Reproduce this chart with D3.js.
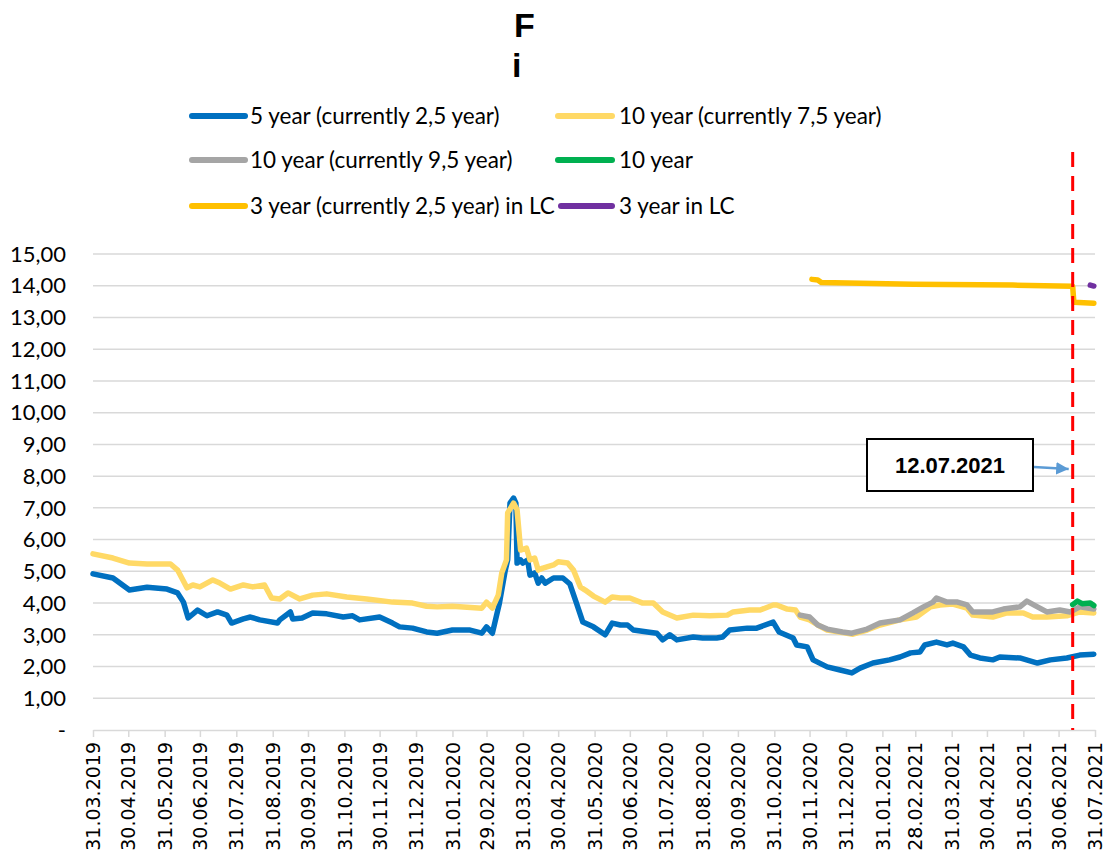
<!DOCTYPE html>
<html>
<head>
<meta charset="utf-8">
<script src="https://cdn.jsdelivr.net/npm/d3@7"></script>
<style>
  body { margin: 0; background: #fff; }
  svg { display: block; }
</style>
</head>
<body>
<svg id="chart" width="1110" height="855"></svg>
<script>
// ---- data -------------------------------------------------------------
const tickLabels = [
  "31.03.2019","30.04.2019","31.05.2019","30.06.2019","31.07.2019","31.08.2019",
  "30.09.2019","31.10.2019","30.11.2019","31.12.2019","31.01.2020","29.02.2020",
  "31.03.2020","30.04.2020","31.05.2020","30.06.2020","31.07.2020","31.08.2020",
  "30.09.2020","31.10.2020","30.11.2020","31.12.2020","31.01.2021","28.02.2021",
  "31.03.2021","30.04.2021","31.05.2021","30.06.2021","31.07.2021"
];
const yTicks = [0,1,2,3,4,5,6,7,8,9,10,11,12,13,14,15];

const dates5y = [
  "2019-03-31","2019-04-17","2019-05-01","2019-05-16","2019-06-02","2019-06-11","2019-06-16","2019-06-20",
  "2019-06-28","2019-07-06","2019-07-15","2019-07-23","2019-07-27","2019-08-06","2019-08-12","2019-08-20",
  "2019-09-04","2019-09-06","2019-09-15","2019-09-17","2019-09-25","2019-10-04","2019-10-16","2019-10-30",
  "2019-11-07","2019-11-13","2019-11-30","2019-12-11","2019-12-17","2019-12-28","2020-01-09","2020-01-18",
  "2020-01-31","2020-02-15","2020-02-25","2020-02-29","2020-03-05","2020-03-07","2020-03-11","2020-03-16",
  "2020-03-18","2020-03-20","2020-03-23","2020-03-25","2020-03-26","2020-03-29","2020-03-31","2020-04-04",
  "2020-04-06","2020-04-10","2020-04-13","2020-04-16","2020-04-19","2020-04-26","2020-05-04","2020-05-10",
  "2020-05-16","2020-05-21","2020-05-30","2020-06-09","2020-06-15","2020-06-22","2020-06-28","2020-07-03",
  "2020-07-15","2020-07-23","2020-07-28","2020-08-03","2020-08-09","2020-08-23","2020-08-31","2020-09-12",
  "2020-09-17","2020-09-23","2020-10-08","2020-10-16","2020-10-30","2020-11-04","2020-11-16","2020-11-19",
  "2020-11-28","2020-12-03","2020-12-15","2020-12-26","2021-01-05","2021-01-12","2021-01-23","2021-02-06",
  "2021-02-15","2021-02-24","2021-03-04","2021-03-08","2021-03-18","2021-03-27","2021-04-01","2021-04-10",
  "2021-04-16","2021-04-24","2021-05-05","2021-05-11","2021-05-28","2021-06-12","2021-06-23","2021-07-07",
  "2021-07-18","2021-07-30"
];
const values5y = [
  4.92,4.79,4.41,4.50,4.44,4.32,4.03,3.53,
  3.78,3.60,3.72,3.62,3.37,3.50,3.56,3.47,
  3.37,3.47,3.72,3.50,3.53,3.69,3.66,3.56,
  3.60,3.47,3.56,3.37,3.25,3.21,3.09,3.05,
  3.15,3.15,3.05,3.25,3.05,3.37,4.00,5.04,
  5.36,7.15,7.31,7.15,5.26,5.36,5.26,5.36,
  4.88,4.95,4.63,4.79,4.63,4.79,4.79,4.60,
  3.95,3.40,3.25,3.00,3.37,3.31,3.31,3.15,
  3.09,3.05,2.84,3.00,2.84,2.93,2.90,2.90,
  2.93,3.15,3.21,3.21,3.40,3.09,2.90,2.68,
  2.62,2.21,1.99,1.89,1.80,1.95,2.11,2.21,
  2.30,2.43,2.46,2.68,2.77,2.68,2.74,2.62,
  2.36,2.27,2.21,2.30,2.27,2.11,2.21,2.27,
  2.36,2.39
];

const dates10y75 = [
  "2019-03-31","2019-04-17","2019-05-01","2019-05-16","2019-06-05","2019-06-11","2019-06-19","2019-06-24",
  "2019-06-30","2019-07-11","2019-07-17","2019-07-26","2019-08-06","2019-08-14","2019-08-24","2019-08-30",
  "2019-09-06","2019-09-13","2019-09-23","2019-10-04","2019-10-16","2019-11-02","2019-11-19","2019-12-11",
  "2019-12-28","2020-01-09","2020-01-18","2020-01-31","2020-02-25","2020-02-29","2020-03-05","2020-03-10",
  "2020-03-13","2020-03-17","2020-03-18","2020-03-23","2020-03-26","2020-03-29","2020-04-03","2020-04-06",
  "2020-04-10","2020-04-13","2020-04-17","2020-04-26","2020-04-30","2020-05-08","2020-05-13","2020-05-19",
  "2020-05-23","2020-05-30","2020-06-09","2020-06-15","2020-06-22","2020-06-30","2020-07-11","2020-07-20",
  "2020-07-28","2020-08-09","2020-08-23","2020-09-06","2020-09-21","2020-09-26","2020-10-10","2020-10-19",
  "2020-10-30","2020-11-02","2020-11-11","2020-11-18","2020-11-22","2020-11-30","2020-12-07","2020-12-15",
  "2021-01-01","2021-01-06","2021-01-18","2021-01-29","2021-02-15","2021-03-01","2021-03-13","2021-03-21",
  "2021-04-01","2021-04-13","2021-04-18","2021-05-05","2021-05-17","2021-05-31","2021-06-08","2021-06-20",
  "2021-07-07","2021-07-18","2021-07-30"
];
const values10y75 = [
  5.55,5.42,5.26,5.23,5.23,5.04,4.48,4.57,
  4.51,4.73,4.63,4.44,4.57,4.51,4.57,4.16,
  4.13,4.32,4.13,4.25,4.29,4.19,4.13,4.03,
  4.00,3.90,3.88,3.90,3.84,4.03,3.84,4.25,
  4.95,5.36,6.84,7.15,6.94,5.67,5.73,5.36,
  5.42,5.04,5.10,5.20,5.30,5.26,5.04,4.50,
  4.41,4.22,4.03,4.19,4.16,4.16,4.00,4.00,
  3.72,3.53,3.62,3.60,3.62,3.72,3.78,3.78,
  3.94,3.94,3.81,3.78,3.56,3.47,3.31,3.15,
  3.05,3.02,3.15,3.31,3.47,3.56,3.88,3.94,
  3.97,3.84,3.62,3.56,3.69,3.69,3.56,3.56,
  3.60,3.72,3.69
];

const dates10y95 = [
  "2020-11-22","2020-11-30","2020-12-07","2020-12-15","2020-12-28","2021-01-05","2021-01-18","2021-01-29",
  "2021-02-15","2021-02-26","2021-03-07","2021-03-15","2021-03-18","2021-03-27","2021-04-05","2021-04-13",
  "2021-04-18","2021-05-05","2021-05-14","2021-05-28","2021-06-03","2021-06-12","2021-06-20","2021-07-01",
  "2021-07-10","2021-07-18","2021-07-30"
];
const values10y95 = [
  3.62,3.56,3.31,3.18,3.09,3.05,3.18,3.37,
  3.47,3.69,3.88,4.03,4.16,4.03,4.03,3.94,
  3.72,3.72,3.81,3.88,4.06,3.88,3.72,3.78,
  3.72,3.88,3.81
];

const dates10y = ["2021-07-12","2021-07-16","2021-07-20","2021-07-27","2021-07-30"];
const values10y = [3.95,4.06,3.98,4.00,3.92];

const dates3yLC25 = ["2020-12-02","2020-12-07","2020-12-10","2021-02-26","2021-05-22","2021-07-12","2021-07-13","2021-07-30"];
const values3yLC25 = [14.20,14.18,14.10,14.05,14.02,13.98,13.48,13.45];

const dates3yLC = ["2021-07-27","2021-07-30"];
const values3yLC = [14.02,13.99];

const seriesNames = [
  "5 year (currently 2,5 year)",
  "10 year (currently 7,5 year)",
  "10 year (currently 9,5 year)",
  "10 year",
  "3 year (currently 2,5 year) in LC",
  "3 year in LC"
];
const seriesColors = ["#0070c0","#ffd966","#a5a5a5","#00b050","#ffc000","#7030a0"];

const markerDate = "12.07.2021";

// ---- setup ------------------------------------------------------------
const parseISO = d3.utcParse("%Y-%m-%d");
const parseLabel = d3.utcParse("%d.%m.%Y");

const series = [
  [dates5y, values5y],
  [dates10y75, values10y75],
  [dates10y95, values10y95],
  [dates10y, values10y],
  [dates3yLC25, values3yLC25],
  [dates3yLC, values3yLC]
].map(([ds, vs], i) => ({
  name: seriesNames[i],
  color: seriesColors[i],
  points: ds.map((d, j) => ({ date: parseISO(d), value: vs[j] }))
}));

const svg = d3.select("#chart");
const plot = { left: 93, right: 1095, top: 254, bottom: 730 };

const x = d3.scaleUtc()
  .domain([parseLabel(tickLabels[0]), parseLabel(tickLabels[tickLabels.length - 1])])
  .range([plot.left, plot.right]);
const y = d3.scaleLinear().domain([0, 15]).range([plot.bottom, plot.top]);

const yFmt = v => v === 0 ? "-" : d3.format(".2f")(v).replace(".", ",");

// horizontal gridlines
svg.append("g")
  .selectAll("line")
  .data(yTicks.filter(v => v > 0))
  .join("line")
  .attr("x1", plot.left).attr("x2", plot.right)
  .attr("y1", d => y(d)).attr("y2", d => y(d))
  .attr("stroke", "#d9d9d9").attr("stroke-width", 1.5);

// y axis labels
svg.append("g")
  .selectAll("text")
  .data(yTicks)
  .join("text")
  .attr("x", 66)
  .attr("y", d => y(d))
  .attr("dy", "0.35em")
  .attr("text-anchor", "end")
  .attr("font-family", "Lato, 'Open Sans', sans-serif")
  .attr("font-size", 22)
  .attr("fill", "#000")
  .text(yFmt);

// x axis
const xAxis = d3.axisBottom(x)
  .tickValues(tickLabels.map(parseLabel))
  .tickFormat(d3.utcFormat("%d.%m.%Y"))
  .tickSize(7)
  .tickSizeOuter(0);

const gx = svg.append("g")
  .attr("transform", `translate(0,${plot.bottom})`)
  .call(xAxis);
gx.select(".domain").attr("stroke", "#d9d9d9").attr("stroke-width", 1.5);
gx.selectAll(".tick line").attr("stroke", "#d9d9d9").attr("stroke-width", 1.5);
gx.selectAll(".tick text")
  .attr("font-family", "'DejaVu Sans', sans-serif")
  .attr("font-size", 19)
  .attr("fill", "#000")
  .attr("text-anchor", "end")
  .attr("transform", "translate(0,12) rotate(-90)")
  .attr("x", 0).attr("y", 0)
  .attr("dy", "0.35em");

// series lines
const line = d3.line()
  .x(d => x(d.date))
  .y(d => y(d.value));

svg.append("g")
  .selectAll("path")
  .data(series)
  .join("path")
  .attr("d", d => line(d.points))
  .attr("fill", "none")
  .attr("stroke", d => d.color)
  .attr("stroke-width", 5.5)
  .attr("stroke-linejoin", "round")
  .attr("stroke-linecap", "round");

// marker date line
const mx = x(parseLabel(markerDate));
svg.append("line")
  .attr("x1", mx).attr("x2", mx)
  .attr("y1", 152).attr("y2", plot.bottom)
  .attr("stroke", "#ff0000")
  .attr("stroke-width", 3)
  .attr("stroke-dasharray", "15,9");

// annotation box
const box = svg.append("g");
box.append("rect")
  .attr("x", 867).attr("y", 439)
  .attr("width", 166).attr("height", 52)
  .attr("fill", "#fff")
  .attr("stroke", "#000")
  .attr("stroke-width", 2);
box.append("text")
  .attr("x", 950).attr("y", 465)
  .attr("dy", "0.35em")
  .attr("text-anchor", "middle")
  .attr("font-family", "'Liberation Sans', Arial, sans-serif")
  .attr("font-weight", "bold")
  .attr("font-size", 22)
  .text(markerDate);

svg.append("defs").append("marker")
  .attr("id", "arrowHead")
  .attr("viewBox", "0 0 10 10")
  .attr("refX", 10).attr("refY", 5)
  .attr("markerWidth", 5).attr("markerHeight", 5)
  .attr("orient", "auto")
  .append("path")
  .attr("d", "M0,0 L10,5 L0,10 Z")
  .attr("fill", "#5b9bd5");

svg.append("line")
  .attr("x1", 1034).attr("y1", 467)
  .attr("x2", mx - 4).attr("y2", 469)
  .attr("stroke", "#5b9bd5")
  .attr("stroke-width", 2.5)
  .attr("marker-end", "url(#arrowHead)");

// title
const title = svg.append("g")
  .attr("font-family", "'Liberation Sans', Arial, sans-serif")
  .attr("font-weight", "bold")
  .attr("font-size", 34)
  .attr("fill", "#000");
title.append("text").attr("x", 514).attr("y", 37).text("F");
title.append("text").attr("x", 512).attr("y", 77).text("i");

// legend
const legendPos = [
  { lx: 192, ty: 116 }, { lx: 558, ty: 116 },
  { lx: 192, ty: 160 }, { lx: 558, ty: 160 },
  { lx: 192, ty: 206 }, { lx: 561, ty: 206 }
];
const legend = svg.append("g")
  .selectAll("g")
  .data(series)
  .join("g")
  .attr("transform", (d, i) => `translate(${legendPos[i].lx},${legendPos[i].ty})`);
legend.append("line")
  .attr("x1", 0).attr("x2", (d, i) => 612 - legendPos[i].lx > 60 ? 53 : 612 - legendPos[i].lx)
  .attr("stroke", d => d.color)
  .attr("stroke-width", 6)
  .attr("stroke-linecap", "round");
legend.append("text")
  .attr("x", (d, i) => i % 2 === 0 ? 58 : 619 - legendPos[i].lx)
  .attr("dy", "0.35em")
  .attr("font-family", "Lato, 'Open Sans', sans-serif")
  .attr("font-size", 22.5)
  .attr("fill", "#000")
  .text(d => d.name);
</script>
</body>
</html>
